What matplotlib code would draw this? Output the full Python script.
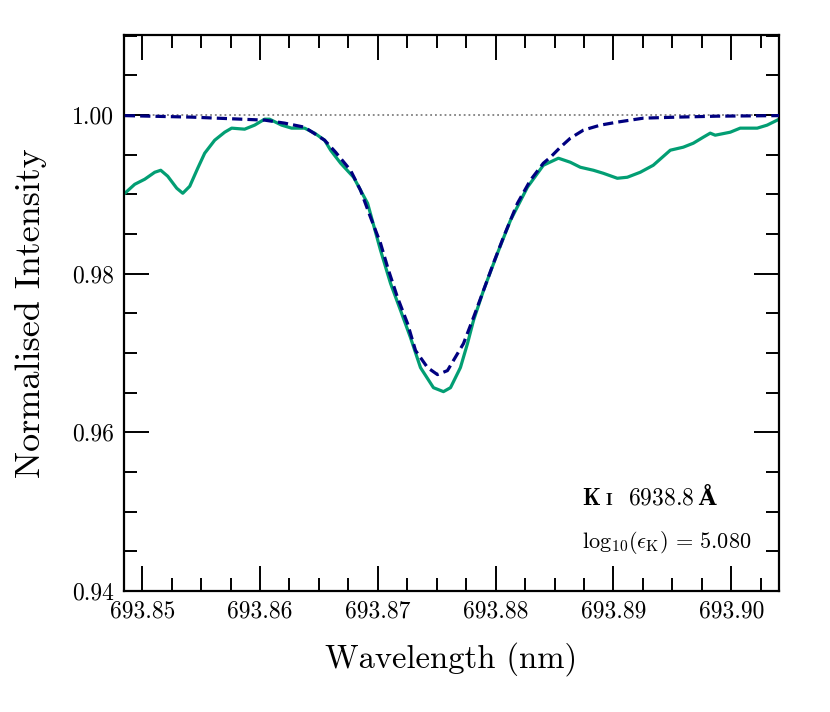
import numpy as np
import matplotlib
matplotlib.use('Agg')
import matplotlib.pyplot as plt
from matplotlib.ticker import MultipleLocator, FormatStrFormatter
from matplotlib.transforms import offset_copy

plt.rcParams['font.family'] = 'serif'
plt.rcParams['font.serif'] = ['cmr10']
plt.rcParams['mathtext.fontset'] = 'cm'
plt.rcParams['axes.unicode_minus'] = False
plt.rcParams['axes.formatter.use_mathtext'] = True

obs_wl = [693.84852, 693.84936, 693.85021, 693.85106, 693.85157, 693.85216, 693.85293,
          693.85344, 693.85403, 693.85471, 693.85530, 693.85615, 693.85700, 693.85759,
          693.85869, 693.85954, 693.86039, 693.86081, 693.86183, 693.86268, 693.86378,
          693.86463, 693.86548, 693.86599, 693.86684, 693.86794, 693.86913, 693.87023,
          693.87108, 693.87193, 693.87277, 693.87362, 693.87472, 693.87557, 693.87617,
          693.87701, 693.87761, 693.87812, 693.87897, 693.88015, 693.88126, 693.88270,
          693.88405, 693.88533, 693.88634, 693.88719, 693.88830, 693.88914, 693.89033,
          693.89118, 693.89228, 693.89338, 693.89483, 693.89593, 693.89678, 693.89763,
          693.89822, 693.89864, 693.89992, 693.90076, 693.90221, 693.90305, 693.90407]
obs_flux = [0.99015, 0.99128, 0.99192, 0.99280, 0.99305, 0.99230, 0.99078,
            0.99015, 0.99103, 0.99331, 0.99520, 0.99684, 0.99785, 0.99836,
            0.99823, 0.99874, 0.99949, 0.99949, 0.99874, 0.99836, 0.99836,
            0.99773, 0.99684, 0.99558, 0.99394, 0.99217, 0.98888, 0.98295,
            0.97878, 0.97537, 0.97196, 0.96817, 0.96564, 0.96514, 0.96564,
            0.96817, 0.97120, 0.97411, 0.97790, 0.98257, 0.98674, 0.99091,
            0.99368, 0.99457, 0.99406, 0.99343, 0.99305, 0.99267, 0.99204,
            0.99217, 0.99280, 0.99368, 0.99558, 0.99596, 0.99646, 0.99722,
            0.99773, 0.99747, 0.99785, 0.99836, 0.99836, 0.99874, 0.99949]

# synthetic profile
syn_wl = [693.84852, 693.85420, 693.86039, 693.86209, 693.86378, 693.86548, 693.86641,
          693.86768, 693.86853, 693.86938, 693.87023, 693.87091, 693.87167, 693.87252,
          693.87320, 693.87422, 693.87506, 693.87591, 693.87727, 693.87812, 693.87897,
          693.87981, 693.88066, 693.88185, 693.88295, 693.88405, 693.88465, 693.88550,
          693.88634, 693.88745, 693.88889, 693.89033, 693.89254, 693.89542, 693.89881,
          693.90407]
syn_flux = [0.99994, 0.99975, 0.99937, 0.99899, 0.99848, 0.99684, 0.99533,
            0.99305, 0.99053, 0.98712, 0.98383, 0.98042, 0.97701, 0.97373,
            0.97032, 0.96817, 0.96729, 0.96779, 0.97120, 0.97449, 0.97790,
            0.98131, 0.98459, 0.98888, 0.99179, 0.99394, 0.99469, 0.99596,
            0.99709, 0.99811, 0.99874, 0.99912, 0.99962, 0.99975, 0.99987,
            0.99994]

fig = plt.figure(figsize=(8.3, 7.12), dpi=100)
ax = fig.add_axes([0.1494, 0.1699, 0.7892, 0.7809])

ax.axhline(1.0, color='#808080', ls=':', lw=1.3, zorder=1)
ax.plot(obs_wl, obs_flux, color='#029E73', lw=2.3, zorder=2)
ax.plot(syn_wl, syn_flux, color='#000080', lw=2.3, ls=(0, (3.2, 1.6)), zorder=3)

ax.set_xlim(693.84845, 693.90406)
ax.set_ylim(0.94, 1.0101)

ax.xaxis.set_major_locator(MultipleLocator(0.01))
ax.xaxis.set_minor_locator(MultipleLocator(0.0025))
ax.yaxis.set_major_locator(MultipleLocator(0.02))
ax.yaxis.set_minor_locator(MultipleLocator(0.005))
ax.xaxis.set_major_formatter(FormatStrFormatter('%.2f'))
ax.yaxis.set_major_formatter(FormatStrFormatter('%.2f'))
ax.tick_params(which='both', direction='in', top=True, right=True, width=1.4, labelsize=17)
ax.tick_params(which='major', length=18, pad=7)
ax.tick_params(which='minor', length=9.5)
for s in ax.spines.values():
    s.set_linewidth(1.6)

ax.set_xlabel('Wavelength (nm)', fontsize=23.5, labelpad=14)
ax.set_ylabel('Normalised Intensity', fontsize=26, labelpad=18)

base = ax.transAxes
ax.text(0.699, 0.155, r'$\mathbf{K}$', transform=base, fontsize=16.5, va='baseline')
ax.text(0.699, 0.155, r'$\mathbf{I}$', fontsize=12, va='baseline',
        transform=offset_copy(base, fig=fig, x=17, y=0, units='points'))
ax.text(0.699, 0.155, r'$\mathbf{6938.8}$', fontsize=17, va='baseline',
        transform=offset_copy(base, fig=fig, x=33, y=0, units='points'))
ax.text(0.699, 0.155, 'Å', fontsize=16, va='baseline', fontweight='bold',
        family='DejaVu Serif',
        transform=offset_copy(base, fig=fig, x=84, y=0, units='points'))
ax.text(0.699, 0.077, r'$\mathrm{log}_{10}(\epsilon_{\mathrm{K}})\,=\,5.080$', transform=base,
        fontsize=16, va='baseline')

fig.savefig('out.png', dpi=100)
